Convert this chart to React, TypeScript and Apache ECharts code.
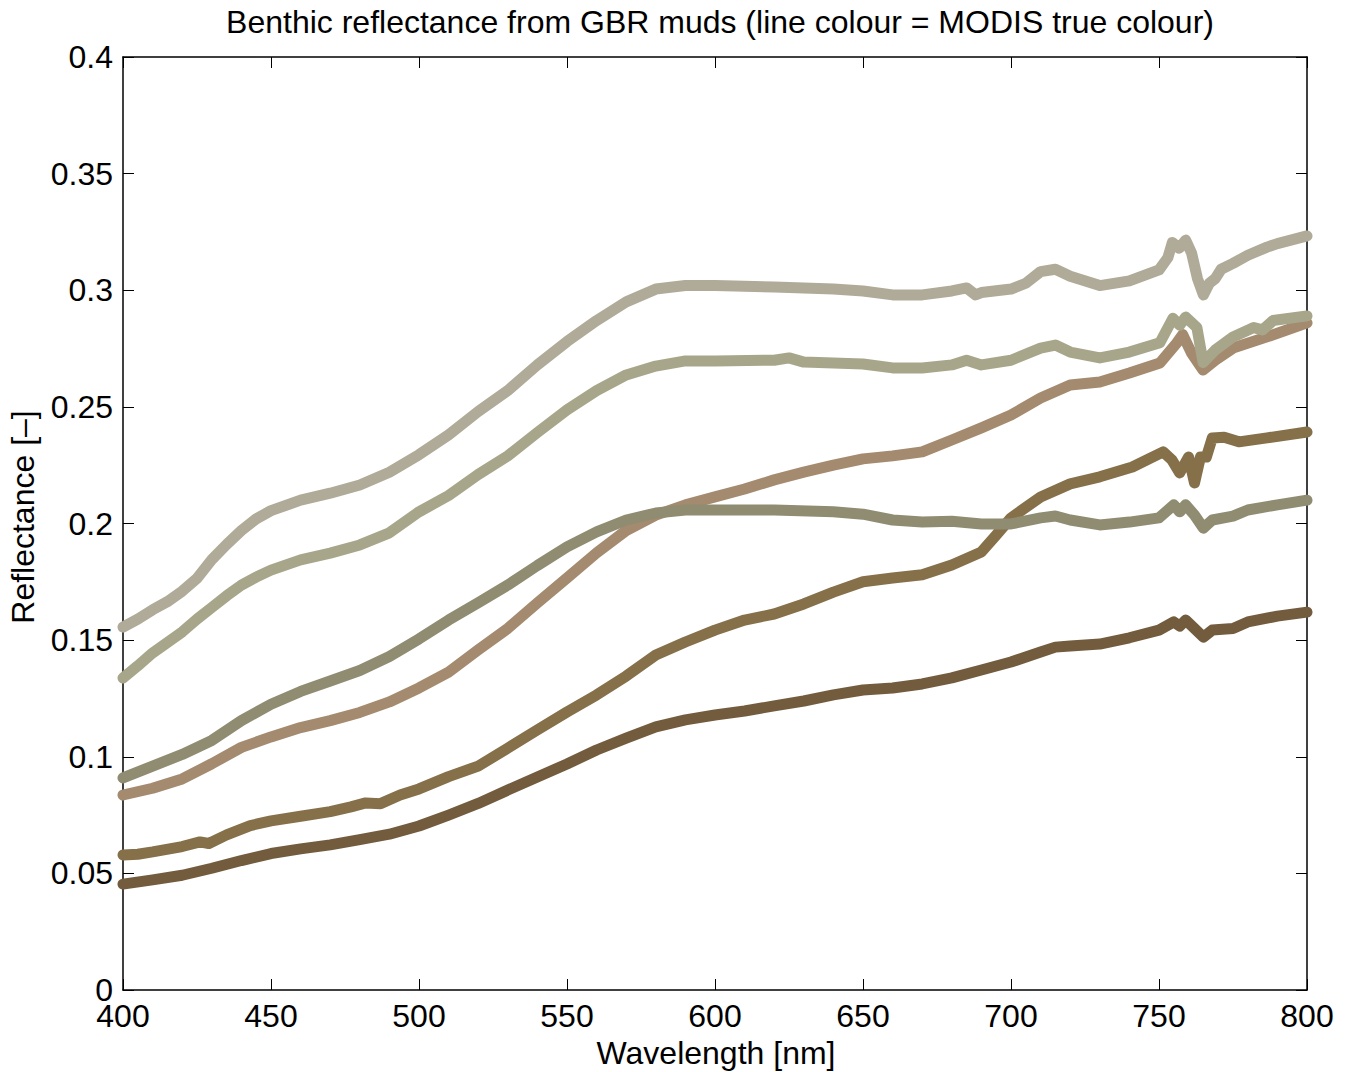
import React, { useEffect, useRef } from "react";
import * as echarts from "echarts";

const titleText = "Benthic reflectance from GBR muds (line colour = MODIS true colour)";
const xName = "Wavelength [nm]";
const yName = "Reflectance [–]";

const colors = ["#b0aa98", "#a8a68a", "#8f8c72", "#a48a6e", "#85704a", "#735c3e"];

const mud1: [number, number][] = [
  [400, 0.1556], [405, 0.159], [410, 0.163], [415, 0.1665], [420, 0.171], [425, 0.1765], [430, 0.1845],
  [435, 0.191], [440, 0.197], [445, 0.202], [450, 0.2055], [460, 0.21], [470, 0.213], [480, 0.2165],
  [490, 0.222], [500, 0.2295], [510, 0.238], [520, 0.248], [530, 0.257], [540, 0.268], [550, 0.278],
  [560, 0.287], [570, 0.295], [580, 0.3005], [590, 0.302], [600, 0.302], [620, 0.3014], [640, 0.3005],
  [650, 0.2997], [660, 0.298], [670, 0.298], [680, 0.2997], [685, 0.301], [688, 0.298], [690, 0.299],
  [700, 0.3005], [705, 0.303], [710, 0.308], [715, 0.309], [720, 0.306], [730, 0.302], [740, 0.304],
  [750, 0.3087], [753, 0.314], [754.5, 0.3205], [756.8, 0.318], [759, 0.3215], [761, 0.316],
  [763, 0.305], [765, 0.298], [767, 0.303], [769, 0.305], [771, 0.309], [775, 0.3115], [780, 0.315],
  [786.5, 0.3185], [790, 0.320], [800, 0.3233],
];

const mud2: [number, number][] = [
  [400, 0.1338], [405, 0.139], [410, 0.1445], [415, 0.149], [420, 0.1535], [425, 0.159], [430, 0.164],
  [435, 0.169], [440, 0.1736], [445, 0.177], [450, 0.18], [460, 0.1844], [470, 0.1873], [480, 0.1908],
  [490, 0.196], [500, 0.205], [510, 0.212], [520, 0.221], [530, 0.229], [540, 0.239], [550, 0.2487],
  [560, 0.257], [570, 0.2637], [580, 0.2675], [590, 0.2697], [600, 0.2697], [620, 0.27], [625, 0.271],
  [630, 0.2692], [650, 0.2684], [660, 0.2667], [670, 0.2667], [680, 0.268], [685, 0.27], [690, 0.268],
  [700, 0.27], [710, 0.2752], [715, 0.2765], [720, 0.2735], [730, 0.271], [740, 0.2735],
  [750.3, 0.2775], [754.7, 0.288], [757, 0.285], [759, 0.2885], [762.8, 0.284], [764.9, 0.269],
  [769, 0.2744], [775, 0.28], [782, 0.284], [785, 0.283], [788.5, 0.287], [800, 0.289],
];

const mud3: [number, number][] = [
  [400, 0.0909], [410, 0.096], [420, 0.101], [430, 0.107], [440, 0.1155], [450, 0.1225],
  [460, 0.128], [470, 0.1325], [480, 0.137], [490, 0.143], [500, 0.1505], [510, 0.1586],
  [520, 0.166], [530, 0.1736], [540, 0.182], [550, 0.19], [560, 0.1964], [570, 0.2015],
  [580, 0.2045], [590, 0.2058], [600, 0.2058], [620, 0.2058], [640, 0.205], [650, 0.204],
  [660, 0.2015], [670, 0.2006], [680, 0.201], [690, 0.1998], [700, 0.1998], [710, 0.2024],
  [715, 0.2032], [720, 0.2015], [730, 0.1994], [740, 0.2006], [750, 0.2024], [755, 0.208],
  [757, 0.205], [759, 0.208], [762, 0.2036], [765, 0.198], [768, 0.2015], [775, 0.2032],
  [780, 0.2058], [790, 0.208], [800, 0.21],
];

const mud4: [number, number][] = [
  [400, 0.0836], [410, 0.0865], [420, 0.0905], [430, 0.097], [440, 0.104], [450, 0.1085],
  [460, 0.1125], [470, 0.1155], [480, 0.119], [490, 0.1235], [500, 0.1295], [510, 0.1363],
  [520, 0.1458], [530, 0.155], [540, 0.166], [550, 0.1766], [560, 0.1874], [570, 0.197],
  [580, 0.2036], [590, 0.208], [600, 0.2114], [610, 0.2148], [620, 0.2187], [630, 0.222],
  [640, 0.225], [650, 0.2277], [660, 0.229], [670, 0.2307], [680, 0.2358], [690, 0.241],
  [700, 0.2465], [710, 0.2538], [720, 0.2594], [730, 0.2607], [740, 0.2645], [750.3, 0.2688],
  [756, 0.2774], [758, 0.281], [761, 0.273], [764.9, 0.2658], [769, 0.27], [775, 0.2752],
  [786.5, 0.28], [800, 0.286],
];

const mud5: [number, number][] = [
  [400, 0.0579], [405, 0.0582], [410, 0.0592], [420, 0.0615], [426, 0.0635], [429, 0.0628],
  [435, 0.0665], [443, 0.0705], [450, 0.0725], [460, 0.0745], [470, 0.0765], [477, 0.0785],
  [482, 0.0802], [487, 0.0799], [493.6, 0.0836], [500, 0.0862], [510, 0.0915], [520, 0.096],
  [530, 0.1037], [540, 0.1115], [550, 0.1192], [560, 0.1265], [570, 0.1346], [580, 0.1436],
  [590, 0.1492], [600, 0.1543], [610, 0.1586], [620, 0.1612], [630, 0.1655], [640, 0.1706],
  [650, 0.175], [660, 0.1766], [670, 0.178], [680, 0.1822], [690, 0.1878], [695, 0.195],
  [700, 0.2024], [710, 0.2114], [720, 0.217], [730, 0.22], [741, 0.2242], [751.4, 0.2307],
  [754.4, 0.2272], [757, 0.2217], [760, 0.2285], [762, 0.2174], [764, 0.2285], [766, 0.2285],
  [768, 0.2367], [772, 0.237], [777, 0.235], [786.5, 0.2367], [800, 0.2392],
];

const mud6: [number, number][] = [
  [400, 0.0454], [410, 0.0472], [420, 0.0492], [430, 0.0522], [440, 0.0555], [450, 0.0585],
  [460, 0.0605], [470, 0.0622], [480, 0.0645], [490, 0.0668], [500, 0.0703], [510, 0.075],
  [520, 0.08], [530, 0.0857], [540, 0.0913], [550, 0.0969], [560, 0.1029], [570, 0.108],
  [580, 0.1128], [590, 0.1158], [600, 0.1179], [610, 0.1196], [620, 0.1218], [630, 0.1239],
  [640, 0.1265], [650, 0.1286], [660, 0.1295], [670, 0.1312], [680, 0.1338], [690, 0.1372],
  [700, 0.1406], [710, 0.1449], [715, 0.147], [720, 0.1475], [730, 0.1483], [740, 0.151],
  [750, 0.1543], [755, 0.1578], [757, 0.156], [759, 0.1586], [762, 0.155], [765, 0.1513],
  [768, 0.1543], [775, 0.155], [780, 0.1578], [790, 0.1603], [800, 0.162],
];

// drawing order: later on top
const seriesList = [
  { name: "mud6", data: mud6, color: colors[5] },
  { name: "mud5", data: mud5, color: colors[4] },
  { name: "mud4", data: mud4, color: colors[3] },
  { name: "mud3", data: mud3, color: colors[2] },
  { name: "mud2", data: mud2, color: colors[1] },
  { name: "mud1", data: mud1, color: colors[0] },
];

const FONT = "'Liberation Sans', Arial, Helvetica, sans-serif";
const FS = 32;

export default function App() {
  const ref = useRef<HTMLDivElement>(null);
  useEffect(() => {
    if (!ref.current) return;
    const chart = echarts.init(ref.current, undefined, { renderer: "svg" });
    const axisCommon = {
      type: "value" as const,
      axisLine: { show: true, onZero: false, lineStyle: { color: "#000", width: 1.5 } },
      axisTick: { show: true, inside: true, length: 11, lineStyle: { color: "#000", width: 1 } },
      splitLine: { show: false },
    };
    chart.setOption({
      animation: false,
      backgroundColor: "#fff",
      title: {
        text: titleText,
        left: 715,
        top: 1,
        textAlign: "center",
        textStyle: { fontFamily: FONT, fontSize: FS, fontWeight: "normal", color: "#000" },
      },
      grid: { left: 123, right: 47, top: 57, bottom: 82 },
      xAxis: [
        {
          ...axisCommon,
          position: "bottom",
          min: 400,
          max: 800,
          interval: 50,
          axisLabel: {
            show: true,
            margin: 14,
            fontFamily: FONT,
            fontSize: FS,
            lineHeight: 24,
            color: "#000",
          },
        },
        {
          ...axisCommon,
          position: "top",
          min: 400,
          max: 800,
          interval: 50,
          axisLabel: { show: false },
        },
      ],
      yAxis: [
        {
          ...axisCommon,
          position: "left",
          min: 0,
          max: 0.4,
          interval: 0.05,
          axisLabel: {
            show: true,
            margin: 10,
            fontFamily: FONT,
            fontSize: FS,
            lineHeight: 24,
            color: "#000",
            formatter: (v: number) => String(parseFloat(v.toFixed(2))),
          },
        },
        {
          ...axisCommon,
          position: "right",
          min: 0,
          max: 0.4,
          interval: 0.05,
          axisLabel: { show: false },
        },
      ],
      graphic: [
        {
          type: "text",
          x: 716,
          y: 1053,
          style: {
            text: xName,
            fontFamily: FONT,
            fontSize: FS,
            fill: "#000",
            align: "center",
            verticalAlign: "middle",
          },
        },
        {
          type: "text",
          x: 23,
          y: 517,
          rotation: Math.PI / 2,
          style: {
            text: yName,
            fontFamily: FONT,
            fontSize: FS,
            fill: "#000",
            align: "center",
            verticalAlign: "middle",
          },
        },
      ],
      series: seriesList.map((s) => ({
        type: "line",
        name: s.name,
        data: s.data,
        xAxisIndex: 0,
        yAxisIndex: 0,
        showSymbol: false,
        symbol: "none",
        lineStyle: { color: s.color, width: 11, cap: "round", join: "round" },
        itemStyle: { color: s.color },
      })),
    });
    return () => chart.dispose();
  }, []);
  return (
    <div
      ref={ref}
      style={{ position: "fixed", left: 0, top: 0, width: 1354, height: 1072, background: "#fff" }}
    />
  );
}
